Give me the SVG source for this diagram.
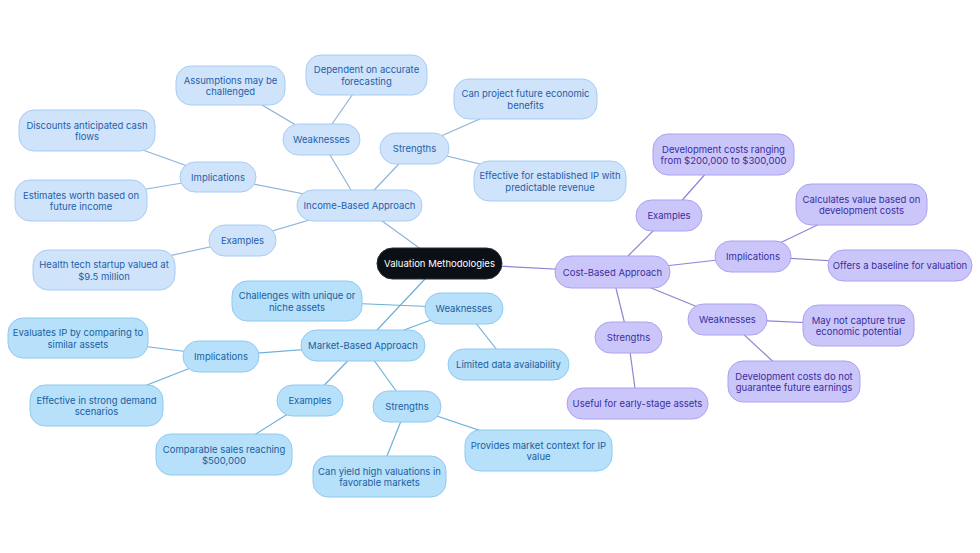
<svg xmlns="http://www.w3.org/2000/svg" width="980" height="553" viewBox="0 0 980 553">
<style>
text{font-family:Inter,"Liberation Sans",sans-serif;font-size:9.5px;text-anchor:middle;dominant-baseline:central}
.i rect{fill:#cfe3fb;stroke:#a8ccf2;stroke-width:1}
.i text{fill:#1f5faa}
.m rect{fill:#b7e0fb;stroke:#8fcaf0;stroke-width:1}
.m text{fill:#1b5fa0}
.c rect{fill:#cbc6fa;stroke:#aaa2f0;stroke-width:1}
.c text{fill:#3a2e9c}
.ei{stroke:#8fb3d9;stroke-width:1.2}
.em{stroke:#6eaed8;stroke-width:1.2}
.ec{stroke:#8d84d6;stroke-width:1.2}
</style>
<rect width="980" height="553" fill="#fff"/>
<g id="connectors">
<line class="ei" x1="440" y1="263" x2="360" y2="205"/>
<line class="ei" x1="360" y1="205" x2="321" y2="140"/>
<line class="ei" x1="360" y1="205" x2="414" y2="148"/>
<line class="ei" x1="321" y1="140" x2="230" y2="86"/>
<line class="ei" x1="321" y1="140" x2="366" y2="75"/>
<line class="ei" x1="414" y1="148" x2="525" y2="99"/>
<line class="ei" x1="414" y1="148" x2="550" y2="181"/>
<line class="ei" x1="360" y1="205" x2="218" y2="177"/>
<line class="ei" x1="218" y1="177" x2="87" y2="130"/>
<line class="ei" x1="218" y1="177" x2="81" y2="200"/>
<line class="ei" x1="360" y1="205" x2="242" y2="240"/>
<line class="ei" x1="242" y1="240" x2="104" y2="270"/>
<line class="em" x1="440" y1="263" x2="363" y2="345"/>
<line class="em" x1="363" y1="345" x2="464" y2="308"/>
<line class="em" x1="464" y1="308" x2="297" y2="301"/>
<line class="em" x1="464" y1="308" x2="508" y2="364"/>
<line class="em" x1="363" y1="345" x2="221" y2="356"/>
<line class="em" x1="221" y1="356" x2="78" y2="338"/>
<line class="em" x1="221" y1="356" x2="96" y2="405"/>
<line class="em" x1="363" y1="345" x2="310" y2="400"/>
<line class="em" x1="310" y1="400" x2="224" y2="454"/>
<line class="em" x1="363" y1="345" x2="407" y2="406"/>
<line class="em" x1="407" y1="406" x2="379" y2="476"/>
<line class="em" x1="407" y1="406" x2="538" y2="450"/>
<line class="ec" x1="440" y1="263" x2="612" y2="272"/>
<line class="ec" x1="612" y1="272" x2="669" y2="215"/>
<line class="ec" x1="669" y1="215" x2="723" y2="154"/>
<line class="ec" x1="612" y1="272" x2="753" y2="256"/>
<line class="ec" x1="753" y1="256" x2="861" y2="204"/>
<line class="ec" x1="753" y1="256" x2="900" y2="265"/>
<line class="ec" x1="612" y1="272" x2="727" y2="319"/>
<line class="ec" x1="727" y1="319" x2="858" y2="325"/>
<line class="ec" x1="727" y1="319" x2="794" y2="381"/>
<line class="ec" x1="612" y1="272" x2="628" y2="337"/>
<line class="ec" x1="628" y1="337" x2="637" y2="403"/>
</g>
<g id="root"><rect x="377" y="248" width="125" height="31" rx="15.5" fill="#0b1016" stroke="#2a2f36"/><text x="439.5" y="263.5" fill="#fff">Valuation Methodologies</text></g>

<g id="income" class="i"><rect x="297" y="190" width="125" height="31" rx="15.5"/><text x="359.5" y="205.5">Income-Based Approach</text></g>
<g id="inc-weak" class="i"><rect x="283" y="124" width="77" height="31" rx="15.5"/><text x="321.5" y="139.5">Weaknesses</text></g>
<g id="inc-str" class="i"><rect x="380" y="133" width="69" height="31" rx="15.5"/><text x="414.5" y="148.5">Strengths</text></g>
<g id="inc-w1" class="i"><rect x="176" y="66" width="109" height="39" rx="15"/><text x="230.5" y="80">Assumptions may be</text><text x="230.5" y="91.5">challenged</text></g>
<g id="inc-w2" class="i"><rect x="306" y="55" width="121" height="40" rx="15"/><text x="366.5" y="69.5">Dependent on accurate</text><text x="366.5" y="81">forecasting</text></g>
<g id="inc-s1" class="i"><rect x="454" y="79" width="143" height="40" rx="15"/><text x="525.5" y="93.5">Can project future economic</text><text x="525.5" y="105">benefits</text></g>
<g id="inc-s2" class="i"><rect x="474" y="161" width="152" height="40" rx="15"/><text x="550" y="175.5">Effective for established IP with</text><text x="550" y="187">predictable revenue</text></g>
<g id="inc-imp" class="i"><rect x="180" y="162" width="76" height="30" rx="15"/><text x="218" y="177">Implications</text></g>
<g id="inc-i1" class="i"><rect x="19" y="110" width="136" height="41" rx="15"/><text x="87" y="125">Discounts anticipated cash</text><text x="87" y="136.5">flows</text></g>
<g id="inc-i2" class="i"><rect x="15" y="180" width="132" height="41" rx="15"/><text x="81" y="195">Estimates worth based on</text><text x="81" y="206.5">future income</text></g>
<g id="inc-ex" class="i"><rect x="209" y="225" width="67" height="31" rx="15.5"/><text x="242.5" y="240.5">Examples</text></g>
<g id="inc-e1" class="i"><rect x="33" y="250" width="142" height="40" rx="15"/><text x="104" y="264.5">Health tech startup valued at</text><text x="104" y="276">$9.5 million</text></g>

<g id="market" class="m"><rect x="301" y="330" width="124" height="31" rx="15.5"/><text x="363" y="345.5">Market-Based Approach</text></g>
<g id="mkt-weak" class="m"><rect x="425" y="293" width="78" height="31" rx="15.5"/><text x="464" y="308.5">Weaknesses</text></g>
<g id="mkt-w1" class="m"><rect x="232" y="281" width="130" height="40" rx="15"/><text x="297" y="295.5">Challenges with unique or</text><text x="297" y="307">niche assets</text></g>
<g id="mkt-w2" class="m"><rect x="448" y="349" width="121" height="31" rx="15.5"/><text x="508.5" y="364.5">Limited data availability</text></g>
<g id="mkt-imp" class="m"><rect x="183" y="341" width="76" height="31" rx="15.5"/><text x="221" y="356.5">Implications</text></g>
<g id="mkt-i1" class="m"><rect x="8" y="318" width="140" height="40" rx="15"/><text x="78" y="332.5">Evaluates IP by comparing to</text><text x="78" y="344">similar assets</text></g>
<g id="mkt-i2" class="m"><rect x="30" y="385" width="133" height="41" rx="15"/><text x="96.5" y="400">Effective in strong demand</text><text x="96.5" y="411.5">scenarios</text></g>
<g id="mkt-ex" class="m"><rect x="277" y="385" width="66" height="31" rx="15.5"/><text x="310" y="400.5">Examples</text></g>
<g id="mkt-e1" class="m"><rect x="156" y="434" width="136" height="41" rx="15"/><text x="224" y="449">Comparable sales reaching</text><text x="224" y="460.5">$500,000</text></g>
<g id="mkt-str" class="m"><rect x="373" y="391" width="68" height="31" rx="15.5"/><text x="407" y="406.5">Strengths</text></g>
<g id="mkt-s1" class="m"><rect x="313" y="456" width="133" height="41" rx="15"/><text x="379.5" y="471">Can yield high valuations in</text><text x="379.5" y="482.5">favorable markets</text></g>
<g id="mkt-s2" class="m"><rect x="465" y="430" width="147" height="41" rx="15"/><text x="538.5" y="445">Provides market context for IP</text><text x="538.5" y="456.5">value</text></g>

<g id="cost" class="c"><rect x="555" y="256" width="115" height="32" rx="16"/><text x="612.5" y="272">Cost-Based Approach</text></g>
<g id="cost-ex" class="c"><rect x="636" y="200" width="66" height="31" rx="15.5"/><text x="669" y="215.5">Examples</text></g>
<g id="cost-e1" class="c"><rect x="653" y="134" width="141" height="41" rx="15"/><text x="723.5" y="149">Development costs ranging</text><text x="723.5" y="160.5">from $200,000 to $300,000</text></g>
<g id="cost-imp" class="c"><rect x="715" y="241" width="76" height="31" rx="15.5"/><text x="753" y="256.5">Implications</text></g>
<g id="cost-i1" class="c"><rect x="796" y="184" width="131" height="41" rx="15"/><text x="861.5" y="199">Calculates value based on</text><text x="861.5" y="210.5">development costs</text></g>
<g id="cost-i2" class="c"><rect x="828" y="250" width="144" height="31" rx="15.5"/><text x="900" y="265.5">Offers a baseline for valuation</text></g>
<g id="cost-weak" class="c"><rect x="688" y="304" width="79" height="31" rx="15.5"/><text x="727.5" y="319.5">Weaknesses</text></g>
<g id="cost-w1" class="c"><rect x="803" y="305" width="111" height="41" rx="15"/><text x="858.5" y="320">May not capture true</text><text x="858.5" y="331.5">economic potential</text></g>
<g id="cost-w2" class="c"><rect x="728" y="361" width="132" height="41" rx="15"/><text x="794" y="376">Development costs do not</text><text x="794" y="387.5">guarantee future earnings</text></g>
<g id="cost-str" class="c"><rect x="595" y="322" width="67" height="31" rx="15.5"/><text x="628.5" y="337.5">Strengths</text></g>
<g id="cost-s1" class="c"><rect x="567" y="388" width="141" height="31" rx="15.5"/><text x="637.5" y="403.5">Useful for early-stage assets</text></g>
</svg>
